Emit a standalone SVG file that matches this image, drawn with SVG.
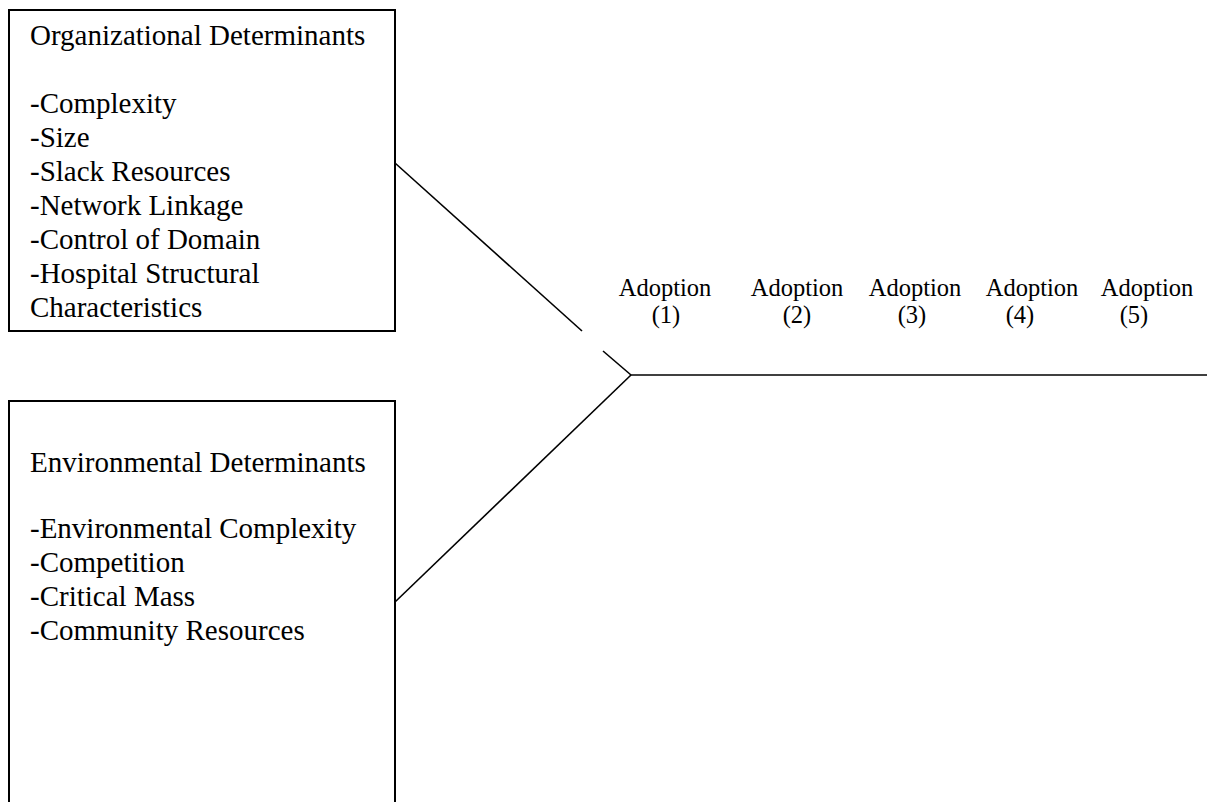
<svg xmlns="http://www.w3.org/2000/svg" width="1207" height="802" viewBox="0 0 1207 802">
<style>
.box{fill:#fff;stroke:#000;stroke-width:2}
.t{font-family:"Liberation Serif","Times New Roman",serif;font-size:29px;fill:#000}
.a{font-family:"Liberation Serif","Times New Roman",serif;font-size:24.5px;fill:#000;text-anchor:middle}
.c{stroke:#000;stroke-width:1.6;fill:none}
</style>
<rect width="1207" height="802" fill="#fff"/>
<g id="organizational">
<rect class="box" x="9" y="10" width="386" height="321"/>
<text class="t" x="30" y="45">Organizational Determinants</text>
<text class="t" x="30" y="113">-Complexity</text>
<text class="t" x="30" y="147">-Size</text>
<text class="t" x="30" y="181">-Slack Resources</text>
<text class="t" x="30" y="215">-Network Linkage</text>
<text class="t" x="30" y="249">-Control of Domain</text>
<text class="t" x="30" y="283">-Hospital Structural</text>
<text class="t" x="30" y="317">Characteristics</text>
</g>
<g id="environmental">
<rect class="box" x="9" y="401" width="386" height="420"/>
<text class="t" x="30" y="472">Environmental Determinants</text>
<text class="t" x="30" y="538">-Environmental Complexity</text>
<text class="t" x="30" y="572">-Competition</text>
<text class="t" x="30" y="606">-Critical Mass</text>
<text class="t" x="30" y="640">-Community Resources</text>
</g>
<g id="adoption-labels">
<text class="a" x="665" y="296">Adoption</text>
<text class="a" x="666" y="323">(1)</text>
<text class="a" x="797" y="296">Adoption</text>
<text class="a" x="797" y="323">(2)</text>
<text class="a" x="915" y="296">Adoption</text>
<text class="a" x="912" y="323">(3)</text>
<text class="a" x="1032" y="296">Adoption</text>
<text class="a" x="1020" y="323">(4)</text>
<text class="a" x="1147" y="296">Adoption</text>
<text class="a" x="1134" y="323">(5)</text>
</g>
<g id="connectors">
<line class="c" x1="395" y1="163" x2="582" y2="331"/>
<line class="c" x1="603" y1="351" x2="631" y2="375"/>
<line class="c" x1="395" y1="602" x2="631" y2="375"/>
<line class="c" x1="631" y1="375" x2="1207" y2="375"/>
</g>
</svg>
